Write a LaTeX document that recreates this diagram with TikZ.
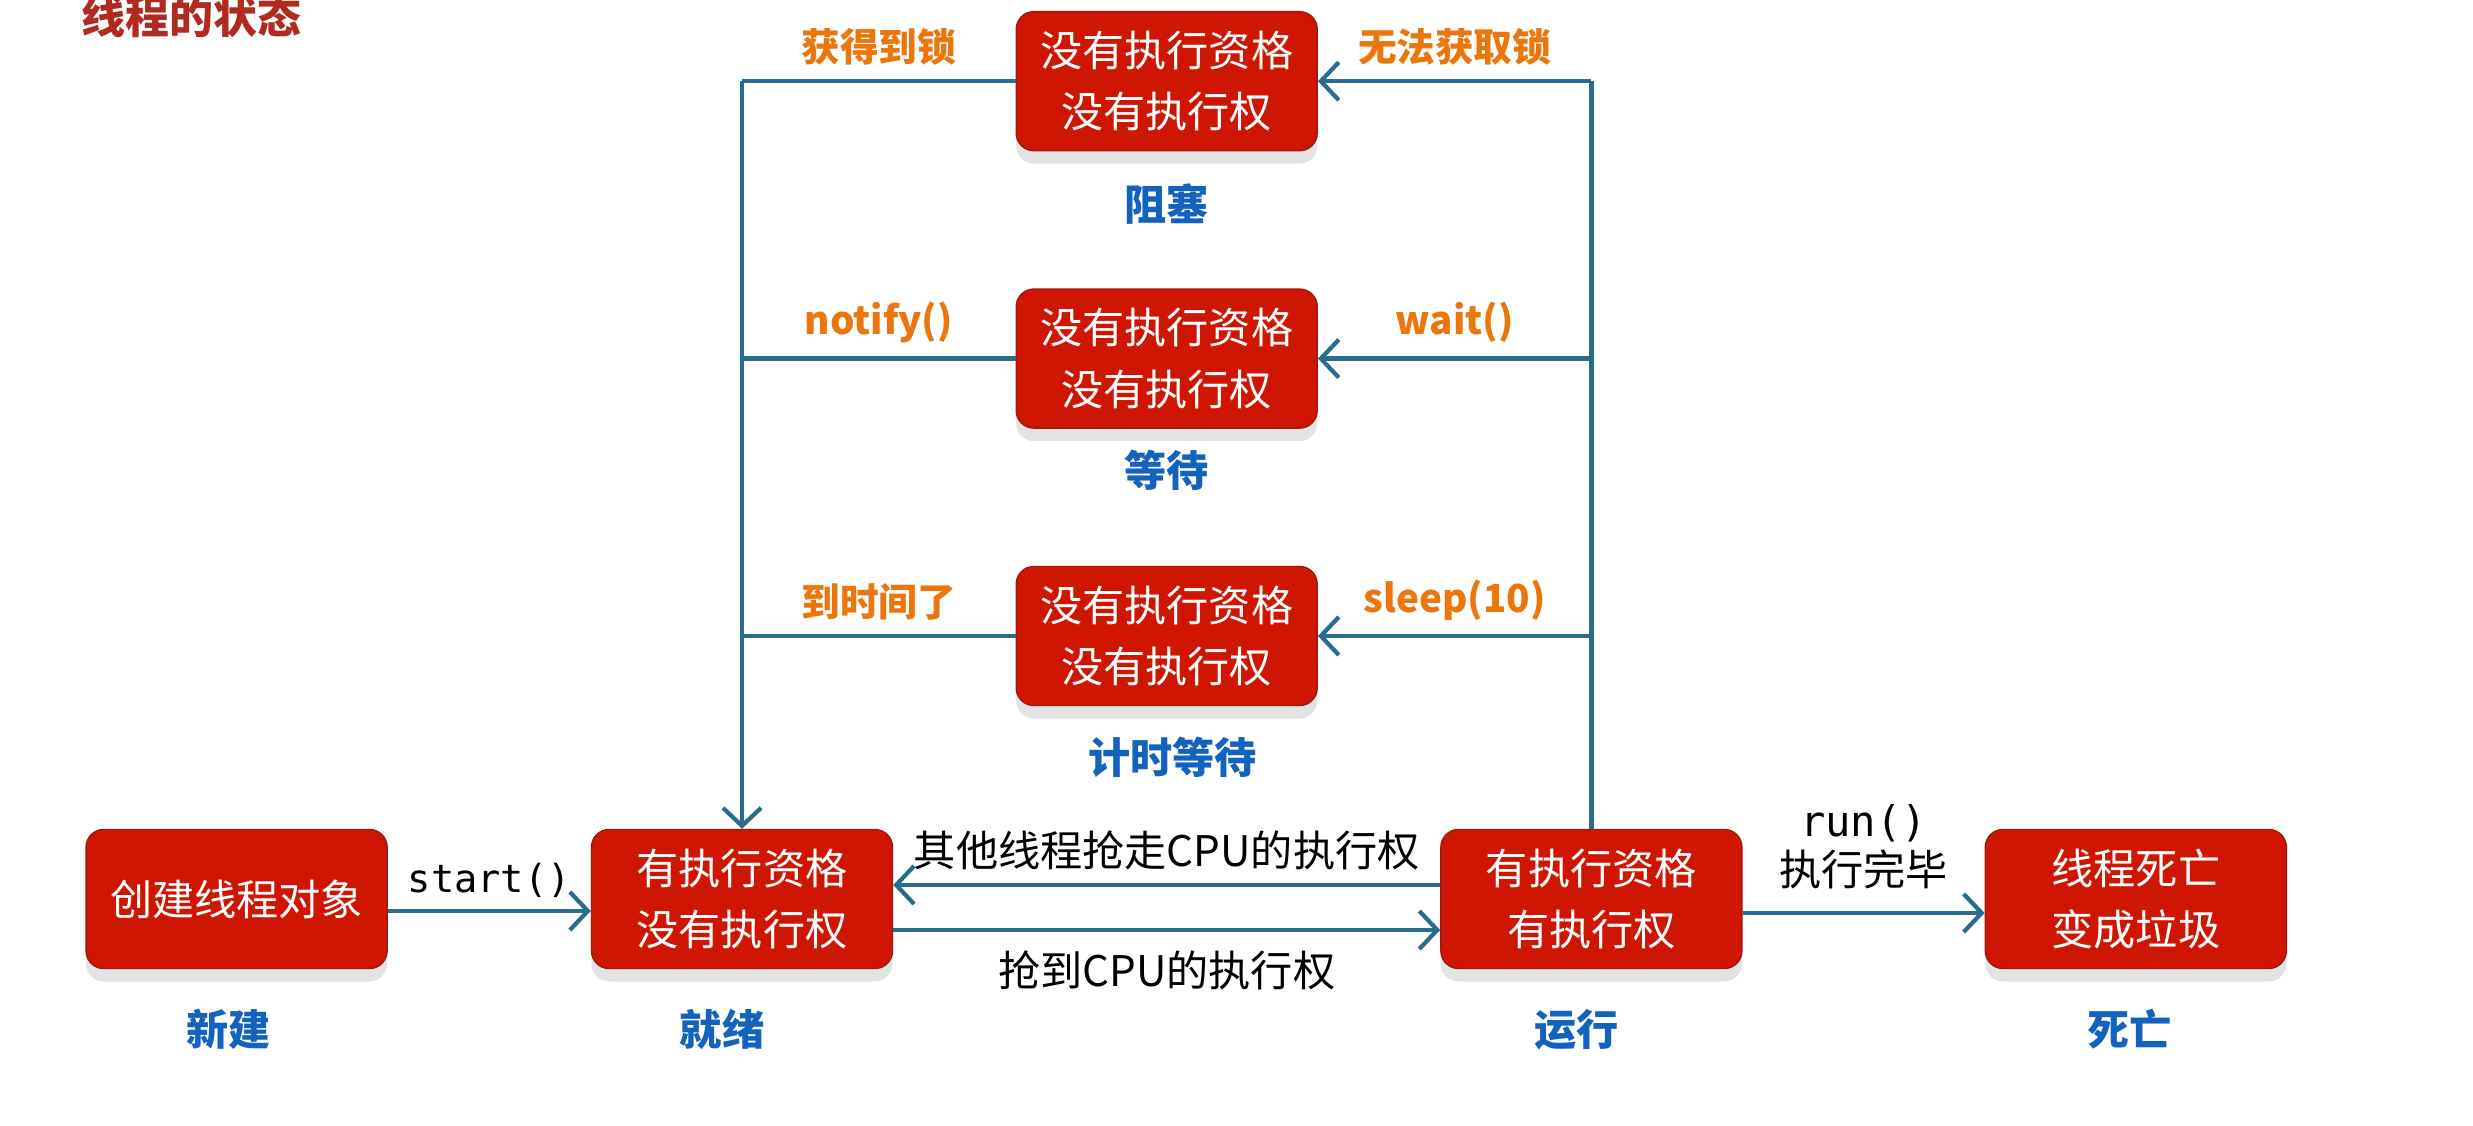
\documentclass[tikz,border=0pt]{standalone}
\usepackage{fontspec}
\setmainfont{Noto Sans CJK SC}
\setmonofont{DejaVu Sans Mono}
\usetikzlibrary{positioning,arrows.meta,calc,shadows}
\definecolor{boxred}{RGB}{206,22,2}
\definecolor{boxline}{RGB}{160,24,10}
\definecolor{flowblue}{RGB}{42,108,142}
\definecolor{condorange}{RGB}{236,118,12}
\definecolor{nameblue}{RGB}{18,98,190}
\definecolor{titlered}{RGB}{176,42,32}
\tikzset{
  state/.style={draw=boxline, fill=boxred, rounded corners=5pt, text=white,
    font=\fontsize{12}{17.5}\selectfont, align=center,
    minimum width=30.1mm, minimum height=13.9mm, inner sep=2pt,
    drop shadow={shadow xshift=0pt, shadow yshift=-1.3mm, fill=black!11, opacity=1}},
  statename/.style={font=\fontsize{12}{14}\selectfont\bfseries, text=nameblue},
  cond/.style={font=\fontsize{11}{13}\selectfont\bfseries, text=condorange, midway, above=0.2mm},
  flow/.style={-{Straight Barb[length=1.8mm, width=3.8mm]}, line width=1.2pt, draw=flowblue},
  link/.style={line width=1.2pt, draw=flowblue},
  flowlabel/.style={font=\fontsize{12}{14}\selectfont, midway},
  call/.style={font=\fontsize{11}{13}\selectfont\ttfamily, midway},
}
\begin{document}
\begin{tikzpicture}[node distance=13.7mm and 20.3mm]
  \useasboundingbox (0,0) rectangle (24.73,11.25);
  \node[font=\fontsize{12.5}{14}\selectfont\bfseries, text=titlered, anchor=north west] (title) at (0.69,11.42) {线程的状态};
  % main row
  \node[state] (ready) at (7.42,2.26) {有执行资格\\没有执行权};
  \node[state, left=of ready] (new) {创建线程对象};
  \node[state, right=54.7mm of ready] (run) {有执行资格\\有执行权};
  \node[state, right=24.2mm of run] (dead) {线程死亡\\变成垃圾};
  % waiting states
  \node[state] (timed) at ($(ready)!0.5!(run)+(0,2.63)$) {没有执行资格\\没有执行权};
  \node[state, above=of timed] (waiting) {没有执行资格\\没有执行权};
  \node[state, above=of waiting] (blocked) {没有执行资格\\没有执行权};
  % state names
  \node[statename, below=2.8mm of new, xshift=-0.8mm] (newname) {新建};
  \node[statename, below=2.8mm of ready, xshift=-2mm] (readyname) {就绪};
  \node[statename, below=2.8mm of run, xshift=-1.5mm] (runname) {运行};
  \node[statename, below=2.8mm of dead, xshift=-0.6mm] (deadname) {死亡};
  \node[statename, below=2mm of blocked] (blockedname) {阻塞};
  \node[statename, below=0.9mm of waiting] (waitingname) {等待};
  \node[statename, below=1.8mm of timed, xshift=0.6mm] (timedname) {计时等待};
  % corners
  \coordinate (rtop) at (run |- blocked);
  \coordinate (ltop) at (ready |- blocked);
  % flows
  \draw[flow] ([yshift=-1.2mm]new.east) -- node[call, above=0mm]{start()} ([yshift=-1.2mm]ready.west);
  \draw[flow] ([yshift=1.4mm]run.west) -- node[flowlabel, above=0.1mm]{其他线程抢走CPU的执行权} ([yshift=1.4mm]ready.east);
  \draw[flow] ([yshift=-3.1mm]ready.east) -- node[flowlabel, below=0.7mm]{抢到CPU的执行权} ([yshift=-3.1mm]run.west);
  \draw[flow] ([yshift=-1.4mm]run.east) -- node[flowlabel, above=1mm, align=center]{{\ttfamily run()}\\执行完毕} ([yshift=-1.4mm]dead.west);
  \draw[link] (run.north) -- (rtop);
  \draw[flow] (rtop) -- node[cond]{无法获取锁} (blocked.east);
  \draw[flow] (run |- waiting) -- node[cond]{wait()} (waiting.east);
  \draw[flow] (run |- timed) -- node[cond]{sleep(10)} (timed.east);
  \draw[link] (blocked.west) -- node[cond]{获得到锁} (ltop);
  \draw[link] (waiting.west) -- node[cond]{notify()} (ready |- waiting);
  \draw[link] (timed.west) -- node[cond]{到时间了} (ready |- timed);
  \draw[flow] (ltop) -- (ready.north);
\end{tikzpicture}
\end{document}
